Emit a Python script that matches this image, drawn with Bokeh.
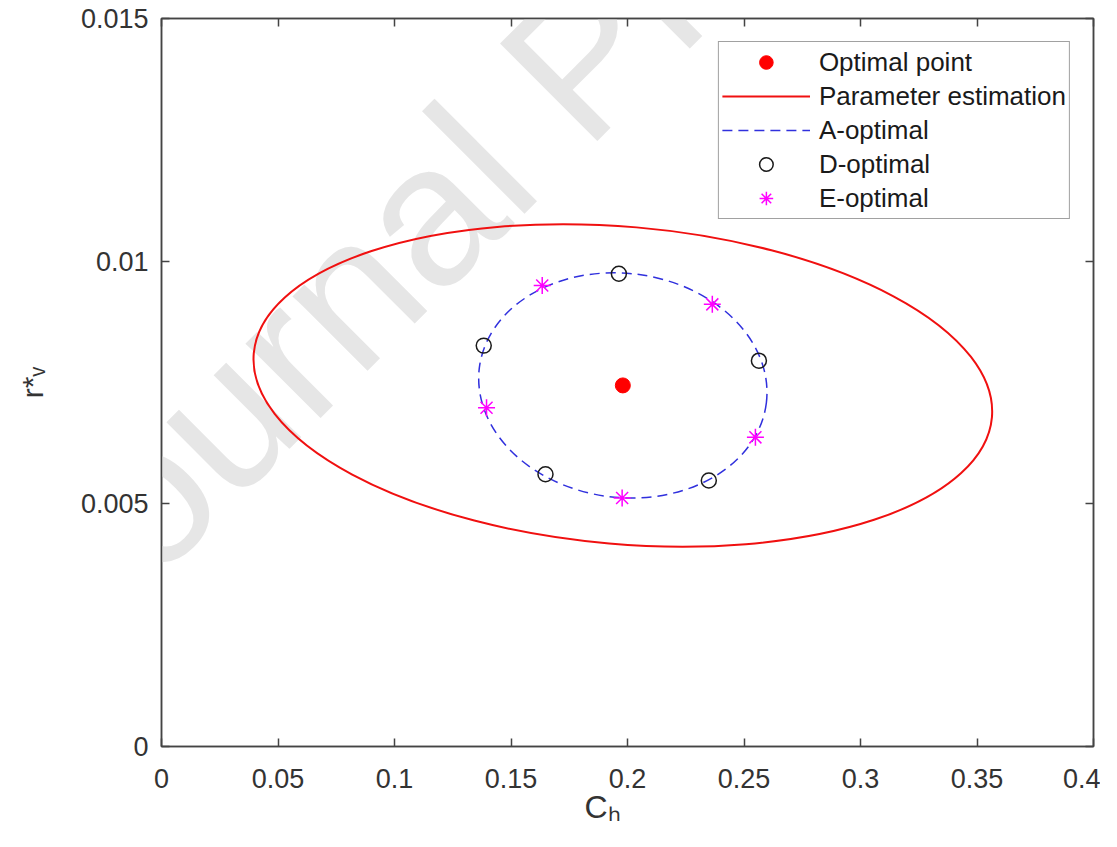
import math
from bokeh.plotting import figure
from bokeh.models import Range1d, LinearAxis, FixedTicker, Label, Legend, LegendItem, Title
from bokeh.embed import file_html
from bokeh.resources import INLINE

# ---------------- data ----------------
optimal_x = [0.198]
optimal_y = [0.00744]

# parameter-estimation confidence ellipse (centred on the optimal point)
pe_width = [0.318]
pe_height = [0.00654]
pe_angle = [-0.0865]

# A-optimal ellipse (centred on the optimal point)
a_width = [0.1241]
a_height = [0.00462]
a_angle = [-0.121]

# D-optimal points
d_x = [0.1963, 0.1383, 0.2564, 0.1648, 0.2349]
d_y = [0.00974, 0.00826, 0.00795, 0.00561, 0.00548]

# E-optimal points
e_x = [0.1634, 0.2364, 0.1395, 0.2549, 0.1977]
e_y = [0.00950, 0.00911, 0.00698, 0.00637, 0.00512]

x_ticks = [0, 0.05, 0.1, 0.15, 0.2, 0.25, 0.3, 0.35, 0.4]
x_tick_labels = ["0", "0.05", "0.1", "0.15", "0.2", "0.25", "0.3", "0.35", "0.4"]
y_ticks = [0, 0.005, 0.01, 0.015]
y_tick_labels = ["0", "0.005", "0.01", "0.015"]

legend_labels = ["Optimal point", "Parameter estimation", "A-optimal", "D-optimal", "E-optimal"]
x_label = "C\u2095"          # C with subscript h
y_label = "r*\u1d65"         # r, superscript *, subscript v
watermark = "Journal Pre-proof"

# ---------------- styling ----------------
FONT = "Liberation Sans"
AXIS_COLOR = "#444444"
TEXT_COLOR = "#333333"
RED = "#f01010"
BLUE = "#3030dd"
MAGENTA = "#ff00ff"

p = figure(width=1100, height=831,
           x_range=Range1d(0, 0.4), y_range=Range1d(0, 0.015),
           output_backend="svg", toolbar_location=None,
           min_border_left=161, min_border_right=7,
           min_border_top=18, min_border_bottom=85)

p.xgrid.visible = False
p.ygrid.visible = False
p.background_fill_color = "white"
p.border_fill_color = "white"
p.outline_line_color = AXIS_COLOR
p.outline_line_width = 1.5

bottom_axis = p.below[0]
left_axis = p.left[0]
top_axis = LinearAxis()
right_axis = LinearAxis()
p.add_layout(top_axis, "above")
p.add_layout(right_axis, "right")

for ax, ticks in [(bottom_axis, x_ticks), (top_axis, x_ticks),
                  (left_axis, y_ticks), (right_axis, y_ticks)]:
    ax.ticker = FixedTicker(ticks=ticks)
    ax.major_tick_in = 8
    ax.major_tick_out = 0
    ax.minor_tick_in = 0
    ax.minor_tick_out = 0
    ax.axis_line_color = AXIS_COLOR
    ax.axis_line_width = 1.5
    ax.major_tick_line_color = AXIS_COLOR
    ax.major_tick_line_width = 1.5
    ax.major_label_text_font = FONT
    ax.major_label_text_font_size = "27px"
    ax.major_label_text_color = TEXT_COLOR

bottom_axis.major_label_overrides = dict(zip(x_ticks, x_tick_labels))
left_axis.major_label_overrides = dict(zip(y_ticks, y_tick_labels))
bottom_axis.major_label_standoff = 22
left_axis.major_label_standoff = 13

for ax in (top_axis, right_axis):
    ax.major_label_text_font_size = "0px"
    ax.major_label_standoff = 0
    ax.major_label_text_color = None

# y-axis label
left_axis.axis_label = y_label
left_axis.axis_label_text_font = FONT
left_axis.axis_label_text_font_size = "30px"
left_axis.axis_label_text_font_style = "normal"
left_axis.axis_label_text_color = TEXT_COLOR
left_axis.axis_label_standoff = 29

# x-axis label
p.add_layout(Title(text=x_label, align="left", offset=423, standoff=-8,
                   vertical_align="bottom", text_font=FONT,
                   text_font_size="32px", text_font_style="normal",
                   text_color=TEXT_COLOR), "below")

# watermark
p.add_layout(Label(x=-128, y=140, x_units="screen", y_units="screen",
                   text=watermark, angle=math.pi / 4,
                   text_font=FONT, text_font_size="200px",
                   text_color="#e6e6e6", text_align="left",
                   text_baseline="alphabetic", level="underlay"))

# glyphs
p.ellipse(x=optimal_x, y=optimal_y, width=pe_width, height=pe_height,
          angle=pe_angle, fill_color=None, line_color=RED, line_width=2)
p.ellipse(x=optimal_x, y=optimal_y, width=a_width, height=a_height,
          angle=a_angle, fill_color=None, line_color=BLUE, line_width=1.5,
          line_dash="10 6")
r_opt = p.scatter(optimal_x, optimal_y, marker="circle", size=15,
                  fill_color="red", line_color="red")
r_d = p.scatter(d_x, d_y, marker="circle", size=15, fill_color=None,
                line_color="#1a1a1a", line_width=1.5)
r_e = p.scatter(e_x, e_y, marker="asterisk", size=17, line_color=MAGENTA,
                line_width=1.5)

# legend proxies for the two curves (single point -> nothing drawn in the plot)
r_pe_leg = p.line(x=optimal_x, y=optimal_y, line_color=RED, line_width=2)
r_a_leg = p.line(x=optimal_x, y=optimal_y, line_color=BLUE, line_width=1.5,
                 line_dash="10 6")

legend = Legend(items=[
    LegendItem(label=legend_labels[0], renderers=[r_opt]),
    LegendItem(label=legend_labels[1], renderers=[r_pe_leg]),
    LegendItem(label=legend_labels[2], renderers=[r_a_leg]),
    LegendItem(label=legend_labels[3], renderers=[r_d]),
    LegendItem(label=legend_labels[4], renderers=[r_e]),
], location="top_right")
legend.margin = 23
legend.padding = 3
legend.spacing = 0
legend.glyph_width = 88
legend.glyph_height = 34
legend.label_height = 34
legend.label_standoff = 9
legend.label_text_font = FONT
legend.label_text_font_size = "26px"
legend.label_text_color = "#1a1a1a"
legend.border_line_color = AXIS_COLOR
legend.border_line_width = 1.5
legend.background_fill_color = "white"
legend.background_fill_alpha = 1.0
p.add_layout(legend)

open("out.html", "w").write(file_html(p, INLINE))
